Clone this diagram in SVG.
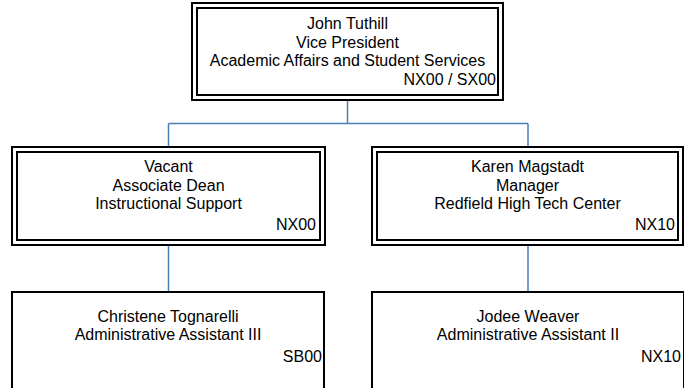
<svg xmlns="http://www.w3.org/2000/svg" width="684" height="388" viewBox="0 0 684 388">
<style>
.b{fill:#fff;stroke:#000;stroke-width:2}
.i{fill:none;stroke:#000;stroke-width:2}
.t{font-family:"Liberation Sans",Arial,sans-serif;font-size:16px;fill:#000;text-anchor:middle}
.r{text-anchor:end}
.c{fill:none;stroke:#4A7EBB;stroke-width:1.5}
</style>
<rect width="684" height="388" fill="#fff"/>
<g id="connectors">
<path class="c" d="M347.5 100V123.5M168.5 123.5H528M168.5 123.5V147M528 123.5V147"/>
<path class="c" d="M168.5 245V292M528 245V292"/>
</g>
<g id="vp">
<rect class="b" x="192" y="3" width="311" height="97"/>
<rect class="i" x="197" y="8" width="301" height="87"/>
<text class="t" x="347.5" y="29">John Tuthill</text>
<text class="t" x="347.5" y="47.5">Vice President</text>
<text class="t" x="347.5" y="66">Academic Affairs and Student Services</text>
<text class="t r" x="496" y="84.5">NX00 / SX00</text>
</g>
<g id="dean">
<rect class="b" x="12" y="147" width="313" height="98"/>
<rect class="i" x="17" y="152" width="303" height="88"/>
<text class="t" x="168.5" y="172">Vacant</text>
<text class="t" x="168.5" y="190.5">Associate Dean</text>
<text class="t" x="168.5" y="209">Instructional Support</text>
<text class="t r" x="316" y="229.5">NX00</text>
</g>
<g id="manager">
<rect class="b" x="372" y="147" width="311" height="98"/>
<rect class="i" x="377" y="152" width="301" height="88"/>
<text class="t" x="527.5" y="172">Karen Magstadt</text>
<text class="t" x="527.5" y="190.5">Manager</text>
<text class="t" x="527.5" y="209">Redfield High Tech Center</text>
<text class="t r" x="675" y="229.5">NX10</text>
</g>
<g id="aa3">
<rect class="b" x="12" y="292" width="312" height="110"/>
<text class="t" x="168" y="322">Christene Tognarelli</text>
<text class="t" x="168" y="340">Administrative Assistant III</text>
<text class="t r" x="322" y="362">SB00</text>
</g>
<g id="aa2">
<rect class="b" x="372" y="292" width="312" height="110"/>
<text class="t" x="528" y="322">Jodee Weaver</text>
<text class="t" x="528" y="340">Administrative Assistant II</text>
<text class="t r" x="681" y="362">NX10</text>
</g>
</svg>
